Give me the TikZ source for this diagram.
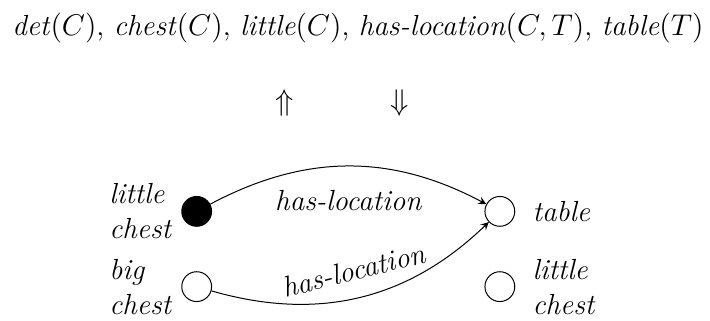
\documentclass[tikz,border=0pt]{standalone}
\usetikzlibrary{arrows,positioning}
\begin{document}
\fontsize{11.65}{14}\selectfont
\begin{tikzpicture}[>=stealth,
  ent/.style={circle,draw,minimum size=0.42cm,inner sep=0pt},
  lbl/.style={align=left,font=\itshape}]
  \useasboundingbox (0,0) rectangle (10,4.507);
  % logical form and the two directions
  \node (form) at (5.04,4.11) {\textit{det}$(C)$, \textit{chest}$(C)$, \textit{little}$(C)$, \textit{has-location}$(C,T)$, \textit{table}$(T)$};
  \node (up) at (4.01,3.06) {$\Uparrow$};
  \node (down) at (5.63,3.06) {$\Downarrow$};
  % entities
  \node[ent,fill=black] (lc) at (2.77,1.53) {};
  \node[ent] (bc) at (2.77,0.47) {};
  \node[ent] (tb) at (7.04,1.53) {};
  \node[ent] (lc2) at (7.04,0.47) {};
  \node[lbl,left=0pt of lc] (lcl) {little\\chest};
  \node[lbl,left=0pt of bc] (bcl) {big\\chest};
  \node[lbl,right=0.1cm of tb] (tbl) {table};
  \node[lbl,right=0.1cm of lc2] (lc2l) {little\\chest};
  % relations
  \draw[->] (lc) to[bend left=28] node[midway,below=0.2cm,font=\itshape] {has-location} (tb);
  \draw[->] (bc) to[bend right=30] node[midway,above=0.1cm,sloped,font=\itshape] {has-location} (tb);
\end{tikzpicture}
\end{document}
